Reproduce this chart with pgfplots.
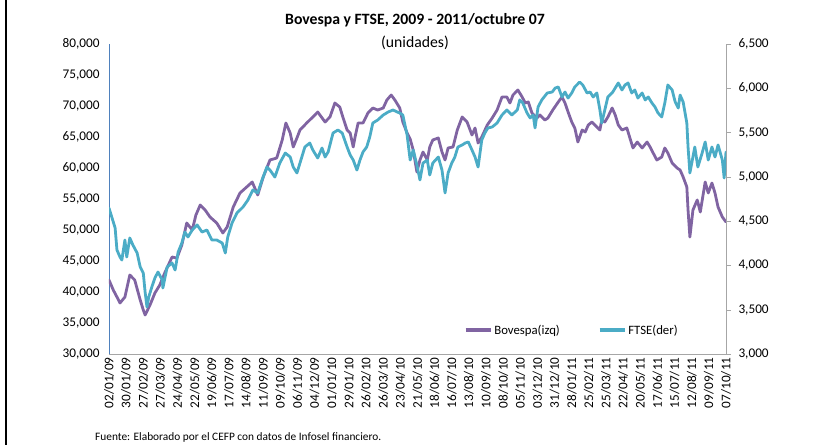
\documentclass[border=0pt]{standalone}
\usepackage{pgfplots}
\pgfplotsset{compat=1.18}
\usepackage{fontspec}
\setmainfont{Carlito}
\definecolor{bov}{HTML}{8064A2}
\definecolor{ftse}{HTML}{4BACC6}
\definecolor{axgray}{HTML}{A6A6A6}
\definecolor{axblue}{HTML}{4F81BD}
\begin{document}
\begin{tikzpicture}
\path[use as bounding box] (-109bp,-91bp) rectangle (705bp,354bp);
\draw[black, line width=2bp] (-103bp,-91bp) -- (-103bp,354bp);
\pgfplotsset{
  base/.style={
    scale only axis, width=617bp, height=310bp,
    xmin=0, xmax=1008, scaled y ticks=false, scaled x ticks=false,
    /pgf/number format/.cd, 1000 sep={,}, assume math mode=true, /pgfplots/.cd,
    tick label style={font=\fontsize{13.3}{15}\selectfont, black},
    every axis plot/.append style={line join=round, line cap=round},
  }
}
\begin{axis}[base,
  axis y line*=left, axis x line*=bottom,
  ymin=30000, ymax=80000, ytick={30000,35000,...,80000},
  x axis line style={axgray}, y axis line style={axblue},
  xtick={0,28,...,1008},
  xticklabels={02/01/09,30/01/09,27/02/09,27/03/09,24/04/09,22/05/09,19/06/09,17/07/09,14/08/09,11/09/09,09/10/09,06/11/09,04/12/09,01/01/10,29/01/10,26/02/10,26/03/10,23/04/10,21/05/10,18/06/10,16/07/10,13/08/10,10/09/10,08/10/10,05/11/10,03/12/10,31/12/10,28/01/11,25/02/11,25/03/11,22/04/11,20/05/11,17/06/11,15/07/11,12/08/11,09/09/11,07/10/11},
  xticklabel style={rotate=90, anchor=east},
  xtick style={draw=none}, ytick style={draw=none},
  yticklabel style={xshift=-6bp},
]
\addplot[bov, line width=2.8bp] coordinates {
(0,41940)(7,40320)(13,39190)(18,38230)(26,39190)(34,42740)(42,41940)(51,38710)(56,37100)(59,36290)(67,37900)(75,39840)(83,41130)(91,43060)(103,45640)(111,45480)(119,47580)(127,51130)(136,50000)(142,52420)(149,54030)(157,53230)(165,52100)(176,51130)(186,49520)(193,50480)(203,53710)(214,55970)(225,56940)(234,57740)(243,55650)(252,58550)(263,61290)(274,61610)(283,64520)(289,67260)(296,65650)(301,63390)(307,64840)(312,66130)(323,67260)(333,68230)(341,69030)(353,67420)(361,68230)(369,70480)(377,69840)(382,68230)(389,66130)(394,65650)(399,63390)(402,65000)(407,67260)(415,67260)(423,68870)(431,69680)(439,69350)(448,69680)(454,70970)(461,71770)(467,70970)(475,69680)(480,67420)(487,65650)(492,64680)(497,62900)(503,59350)(508,61290)(513,62580)(520,61290)(524,63390)(529,64520)(538,64840)(544,62580)(549,61290)(554,63230)(562,63390)(569,66130)(577,68230)(585,67420)(593,65320)(598,66450)(603,64030)(609,65000)(618,66940)(626,68060)(634,69350)(642,71450)(650,71450)(655,70480)(660,71770)(668,72580)(675,71450)(680,70480)(685,70650)(691,68870)(699,68060)(704,68550)(712,67740)(717,68060)(725,69350)(734,70650)(740,71450)(745,70480)(750,69030)(756,67420)(761,66450)(766,64190)(773,66130)(778,65810)(783,66940)(789,67420)(797,66610)(802,66130)(805,67740)(810,67420)(815,68230)(822,69680)(827,68550)(832,66940)(838,66130)(846,66450)(851,64840)(856,63230)(863,64190)(871,63230)(879,64190)(884,63390)(889,62420)(895,61290)(903,61770)(908,63230)(913,62420)(920,60810)(928,60000)(933,59680)(938,58550)(944,56940)(946,53230)(949,48870)(954,53230)(961,54840)(966,52900)(970,55320)(974,57740)(979,55970)(985,57580)(990,55970)(995,53710)(1002,52100)(1008,51290)
};
\end{axis}
\begin{axis}[base,
  axis y line*=right, axis x line=none,
  ymin=3000, ymax=6500, ytick={3000,3500,...,6500},
  y axis line style={axgray}, ytick style={axgray},
  tick align=outside, major tick length=5bp,
  yticklabel style={xshift=4bp},
  legend columns=2,
  legend style={draw=none, fill=none, at={(0.75,0.077)}, anchor=center,
    font=\fontsize{12.8}{15}\selectfont,
    /tikz/every even column/.append style={column sep=36bp}},
  legend image code/.code={\draw[#1, line cap=butt] (0bp,0bp) -- (25bp,0bp);},
]
\addlegendimage{bov, line width=3.5bp}
\addlegendentry{Bovespa(izq)}
\addplot[ftse, line width=2.8bp, forget plot] coordinates {
(0,4648)(5,4536)(10,4423)(13,4174)(18,4095)(21,4061)(26,4287)(29,4095)(34,4310)(39,4231)(46,4140)(51,3982)(56,3915)(59,3700)(62,3531)(65,3644)(70,3757)(75,3858)(80,3926)(87,3836)(88,3745)(95,3982)(103,4028)(108,3948)(113,4152)(119,4253)(124,4377)(129,4321)(136,4400)(144,4457)(152,4377)(160,4400)(168,4287)(176,4287)(185,4253)(190,4140)(194,4321)(201,4479)(209,4592)(219,4660)(227,4739)(235,4852)(243,4818)(250,4965)(258,5111)(263,5077)(271,4998)(279,5156)(288,5269)(296,5224)(301,5111)(307,5044)(312,5156)(320,5337)(328,5382)(333,5303)(341,5213)(348,5326)(353,5224)(358,5281)(366,5495)(374,5529)(381,5495)(389,5337)(394,5247)(399,5190)(405,5077)(410,5190)(415,5281)(421,5337)(426,5450)(431,5608)(439,5642)(448,5698)(456,5732)(464,5755)(471,5732)(475,5721)(480,5698)(487,5473)(492,5190)(497,5303)(503,5134)(508,4965)(513,5156)(520,5190)(524,5021)(529,5156)(538,5224)(544,5077)(549,4818)(554,5044)(560,5156)(565,5224)(570,5337)(577,5360)(582,5382)(587,5394)(593,5303)(598,5224)(603,5111)(609,5416)(614,5495)(619,5552)(626,5563)(634,5608)(642,5698)(650,5755)(658,5698)(667,5755)(671,5868)(676,5834)(683,5721)(688,5665)(693,5698)(696,5552)(701,5789)(707,5868)(716,5947)(724,5958)(729,6003)(734,6015)(740,5902)(745,5958)(750,5890)(756,5947)(761,6015)(769,6071)(774,6037)(781,5947)(786,5958)(791,5902)(797,5947)(802,5755)(805,5608)(810,5755)(815,5902)(823,5958)(832,6060)(838,5981)(843,6037)(848,6060)(854,5947)(859,5981)(864,5890)(871,5947)(876,5868)(881,5902)(887,5834)(892,5789)(897,5721)(903,5676)(908,5834)(913,6037)(920,5981)(925,5845)(930,5777)(933,5924)(938,5845)(944,5608)(946,5337)(949,5044)(953,5190)(957,5337)(962,5111)(969,5269)(974,5394)(979,5190)(985,5337)(990,5224)(995,5360)(1002,5190)(1005,4987)(1008,5281)
};
\addlegendimage{ftse, line width=3.5bp}
\addlegendentry{FTSE(der)}
\end{axis}
\node[font=\bfseries\fontsize{15.8}{18}\selectfont, anchor=center] at (306bp,334bp) {Bovespa y FTSE, 2009 - 2011/octubre 07};
\node[font=\fontsize{15.8}{18}\selectfont, anchor=center] at (306bp,311bp) {(unidades)};
\node[font=\fontsize{11.4}{13}\selectfont, anchor=west, inner sep=0pt] at (-14bp,-83bp) {Fuente: Elaborado por el CEFP con datos de Infosel financiero.};
\end{tikzpicture}
\end{document}
